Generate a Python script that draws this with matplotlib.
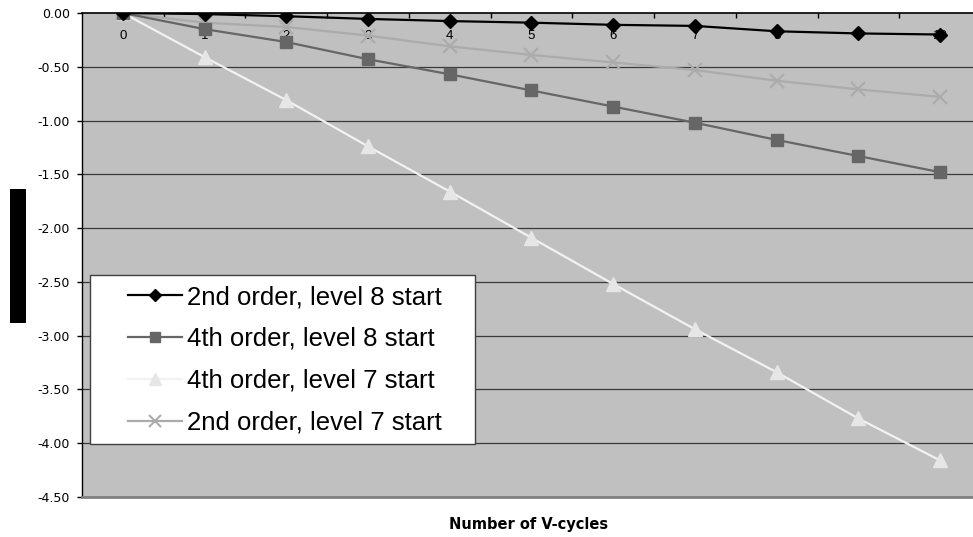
import matplotlib
matplotlib.use("Agg")
import matplotlib.pyplot as plt
from matplotlib.patches import Rectangle
from matplotlib.ticker import FixedLocator

plt.rcParams['font.family'] = ['Liberation Sans', 'DejaVu Sans']

cycles = list(range(11))
cycle_labels = [str(c) for c in cycles]
s_2nd_l8 = [0.00, -0.01, -0.03, -0.055, -0.075, -0.09, -0.11, -0.12, -0.17, -0.19, -0.20]
s_4th_l8 = [0.00, -0.15, -0.27, -0.43, -0.57, -0.72, -0.87, -1.02, -1.18, -1.33, -1.48]
s_4th_l7 = [0.00, -0.41, -0.81, -1.24, -1.66, -2.09, -2.52, -2.94, -3.34, -3.77, -4.16]
s_2nd_l7 = [0.00, -0.09, -0.13, -0.21, -0.31, -0.39, -0.46, -0.53, -0.63, -0.71, -0.78]
y_ticks = [0.0, -0.5, -1.0, -1.5, -2.0, -2.5, -3.0, -3.5, -4.0, -4.5]
names = ["2nd order, level 8 start", "4th order, level 8 start",
         "4th order, level 7 start", "2nd order, level 7 start"]

W, H = 973, 537
fig = plt.figure(figsize=(W / 100, H / 100), dpi=100)
left, right, top, bottom = 82, 973, 13, 497
ax = fig.add_axes([left / W, (H - bottom) / H, (right - left) / W, (bottom - top) / H])
ax.set_facecolor('#C0C0C0')

ax.set_xlim(-0.5, 10.5 - 8 / 82)
ax.set_ylim(-4.5, 0.0)

for y in y_ticks[1:-1]:
    ax.axhline(y, color='#3a3a3a', lw=0.9, zorder=1)

h1, = ax.plot(cycles, s_2nd_l8, color='#000000', lw=1.6, marker='D', ms=7.5,
              mfc='#000000', mec='#000000', zorder=5)
h2, = ax.plot(cycles, s_4th_l8, color='#666666', lw=1.6, marker='s', ms=8.5,
              mfc='#666666', mec='#666666', zorder=4)
h3, = ax.plot(cycles, s_4th_l7, color='#F2F2F2', lw=1.6, marker='^', ms=10,
              mfc='#E6E6E6', mec='#E6E6E6', zorder=3)
h4, = ax.plot(cycles, s_2nd_l7, color='#ABABAB', lw=1.6, marker='x', ms=10,
              mew=1.5, mfc='#ABABAB', mec='#ABABAB', zorder=3)

ax.spines['right'].set_visible(False)
ax.spines['top'].set_color('#000000')
ax.spines['top'].set_linewidth(1.2)
ax.spines['left'].set_color('#000000')
ax.spines['left'].set_linewidth(1.0)
ax.spines['bottom'].set_color('#808080')
ax.spines['bottom'].set_linewidth(2.0)

ax.set_yticks(y_ticks)
ax.set_yticklabels(["%.2f" % v for v in y_ticks], fontsize=9, family='DejaVu Sans')
ax.tick_params(axis='y', direction='out', length=3.5, width=1.0, pad=5, color='#000000')

ax.xaxis.tick_top()
ax.set_xticks(cycles)
ax.set_xticklabels(cycle_labels, fontsize=9.5)
ax.xaxis.set_minor_locator(FixedLocator([c + 0.5 for c in cycles[:-1]]))
ax.tick_params(axis='x', which='major', length=0, pad=-21)
ax.tick_params(axis='x', which='minor', direction='in', length=3.5, width=1.0, color='#000000')

# legend frame drawn as a patch, legend itself frameless on top
lx0, lx1, ly0, ly1 = 90, 475, 275, 444
frame = Rectangle((lx0 / W, (H - ly1) / H), (lx1 - lx0) / W, (ly1 - ly0) / H,
                  transform=fig.transFigure, facecolor='white', edgecolor='#404040',
                  lw=1.0, zorder=6)
ax.add_patch(frame)
frame.set_clip_on(False)
leg = ax.legend([h1, h2, h3, h4], names, loc='upper left',
                bbox_to_anchor=(128 / W, 1 - 285 / H), bbox_transform=fig.transFigure,
                frameon=False, borderpad=0, borderaxespad=0, fontsize=18.5,
                handlelength=2.1, handletextpad=0.2, labelspacing=0.7, markerscale=0.85)
leg.set_zorder(7)

# y-axis title area (rendered as a solid black block in the reference)
fig.patches.append(Rectangle((10 / W, (H - 323) / H), 16 / W, 134 / H,
                             transform=fig.transFigure, facecolor='black',
                             edgecolor='none'))

fig.text(529 / W, 1 - 525 / H, "Number of V-cycles", ha='center', va='center',
         fontsize=10.5, fontweight='bold', family='DejaVu Sans')

fig.savefig("out.png", dpi=100)
